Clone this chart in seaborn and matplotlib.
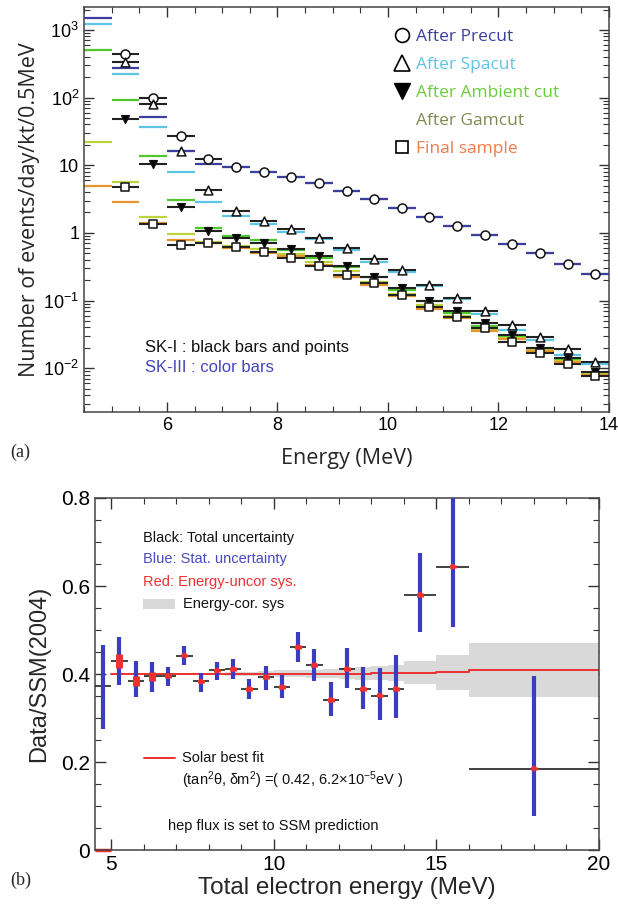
import numpy as np
import pandas as pd
import matplotlib
matplotlib.use("Agg")
import matplotlib.pyplot as plt
import seaborn as sns
from matplotlib.lines import Line2D
from matplotlib.patches import Rectangle
from matplotlib.ticker import (FixedLocator, FixedFormatter, MultipleLocator,
                               LogLocator, NullFormatter)

# ---------------- Panel (a) data ----------------
bin_lo_a = [4.5, 5.0, 5.5, 6.0, 6.5, 7.0, 7.5, 8.0, 8.5, 9.0, 9.5, 10.0, 10.5,
            11.0, 11.5, 12.0, 12.5, 13.0, 13.5]
bin_hi_a = [5.0, 5.5, 6.0, 6.5, 7.0, 7.5, 8.0, 8.5, 9.0, 9.5, 10.0, 10.5, 11.0,
            11.5, 12.0, 12.5, 13.0, 13.5, 14.0]
nan = np.nan
# SK-I (black bars + points)
sk1_precut = [nan, 445, 100, 27, 12.3, 9.3, 7.9, 6.6, 5.4, 4.1, 3.2, 2.33, 1.72,
              1.27, 0.93, 0.69, 0.51, 0.35, 0.25]
sk1_spacut = [nan, 338, 79, 16, 4.3, 2.08, 1.48, 1.15, 0.85, 0.60, 0.41, 0.28,
              0.17, 0.11, 0.069, 0.044, 0.029, 0.019, 0.0123]
sk1_ambient = [nan, 49, 10.3, 2.4, 1.05, 0.84, 0.72, 0.58, 0.45, 0.32, 0.225,
               0.155, 0.10, 0.071, 0.046, 0.031, 0.020, 0.014, 0.0087]
sk1_final = [nan, 4.7, 1.36, 0.67, 0.71, 0.61, 0.53, 0.43, 0.32, 0.24, 0.18,
             0.12, 0.079, 0.058, 0.039, 0.024, 0.0166, 0.0115, 0.0076]
# SK-III (color bars)
sk3_precut = [1500, 276, 52, 16, 10.3, 9.3, 7.9, 6.6, 5.4, 4.1, 3.2, 2.33, 1.72,
              1.27, 0.93, 0.69, 0.51, 0.35, 0.25]
sk3_spacut = [1230, 225, 37, 7.9, 2.85, 1.76, 1.36, 1.04, 0.80, 0.55, 0.37, 0.26,
              0.165, 0.105, 0.063, 0.037, 0.026, 0.0155, 0.0115]
sk3_ambient = [510, 93, 13.5, 3.06, 1.17, 0.90, 0.78, 0.56, 0.42, 0.31, 0.22,
               0.145, 0.097, 0.066, 0.042, 0.030, 0.020, 0.0135, 0.0085]
sk3_gamcut = [22, 5.6, 1.72, 0.96, 0.73, 0.63, 0.58, 0.48, 0.37, 0.27, 0.19,
              0.125, 0.085, 0.060, 0.038, 0.028, 0.019, 0.0128, 0.0082]
sk3_final = [4.9, 2.9, 1.40, 0.79, 0.70, 0.59, 0.51, 0.46, 0.34, 0.225, 0.17,
             0.115, 0.076, 0.056, 0.035, 0.027, 0.018, 0.0122, 0.0078]

legend_labels = ["After Precut", "After Spacut", "After Ambient cut",
                 "After Gamcut", "Final sample"]
ytick_vals_a = [0.01, 0.1, 1, 10, 100, 1000]
ytick_labels_a = ["$10^{-2}$", "$10^{-1}$", "1", "10", "$10^{2}$", "$10^{3}$"]

# ---------------- Panel (b) data ----------------
bin_lo_b = [4.5, 5.0, 5.5, 6.0, 6.5, 7.0, 7.5, 8.0, 8.5, 9.0, 9.5, 10.0, 10.5,
            11.0, 11.5, 12.0, 12.5, 13.0, 13.5, 14.0, 15.0, 16.0]
bin_hi_b = [5.0, 5.5, 6.0, 6.5, 7.0, 7.5, 8.0, 8.5, 9.0, 9.5, 10.0, 10.5, 11.0,
            11.5, 12.0, 12.5, 13.0, 13.5, 14.0, 15.0, 16.0, 20.0]
ratio = [0.373, 0.430, 0.384, 0.395, 0.396, 0.442, 0.383, 0.408, 0.411, 0.366,
         0.393, 0.370, 0.461, 0.420, 0.341, 0.411, 0.366, 0.351, 0.366, 0.580,
         0.644, 0.185]
stat_lo = [0.097, 0.055, 0.036, 0.035, 0.023, 0.022, 0.023, 0.022, 0.022, 0.023,
           0.029, 0.025, 0.033, 0.037, 0.036, 0.043, 0.045, 0.056, 0.065, 0.084,
           0.137, 0.107]
stat_hi = [0.093, 0.055, 0.046, 0.033, 0.020, 0.022, 0.020, 0.020, 0.023, 0.023,
           0.025, 0.028, 0.035, 0.037, 0.041, 0.048, 0.051, 0.062, 0.077, 0.096,
           0.20, 0.21]
uncor_sys = [0.0, 0.016, 0.012, 0.010, 0.005, 0.004, 0.004, 0.004, 0.004, 0.004,
             0.004, 0.004, 0.004, 0.004, 0.004, 0.004, 0.004, 0.004, 0.004, 0.004,
             0.004, 0.004]
best_fit = [0.0, 0.400, 0.400, 0.400, 0.400, 0.400, 0.400, 0.400, 0.400, 0.400,
            0.400, 0.401, 0.401, 0.401, 0.401, 0.401, 0.401, 0.402, 0.402, 0.403,
            0.404, 0.409]
cor_sys = [0.0, 0.001, 0.001, 0.0015, 0.002, 0.002, 0.003, 0.003, 0.004, 0.005,
           0.006, 0.007, 0.008, 0.009, 0.011, 0.012, 0.014, 0.016, 0.018, 0.026,
           0.040, 0.061]

# ---------------- style ----------------
sns.set_theme(style="ticks")
plt.rcParams["font.family"] = ["Liberation Sans", "DejaVu Sans"]
plt.rcParams["mathtext.fontset"] = "custom"
plt.rcParams["mathtext.rm"] = "Liberation Sans"
plt.rcParams["mathtext.it"] = "Liberation Sans:italic"

C_BLUE = "#3b3f9e"
C_CYAN = "#5cc6e4"
C_GREEN = "#4fc72e"
C_YG = "#bcd43a"
C_ORANGE = "#e8962e"
C_GRAY_BAND = "#d9d9d9"
C_RED = "#ee3030"
C_STAT = "#3c3cc0"

fig = plt.figure(figsize=(6.18, 9.09), dpi=100)
axa = fig.add_axes([84 / 618, 1 - 412 / 909, 525 / 618, 405 / 909])
axb = fig.add_axes([95 / 618, 1 - 850 / 909, 504 / 618, 352 / 909])

# ======== Panel (a) ========
dfa = pd.DataFrame({"lo": bin_lo_a, "hi": bin_hi_a})
dfa["E"] = (dfa["lo"] + dfa["hi"]) / 2

def bars(ax, vals, color, lw, z):
    v = np.asarray(vals, dtype=float)
    m = ~np.isnan(v)
    ax.hlines(v[m], dfa["lo"][m], dfa["hi"][m], colors=color, lw=lw, zorder=z)

bars(axa, sk3_spacut, C_CYAN, 1.6, 2)
bars(axa, sk3_ambient, C_GREEN, 1.6, 2)
bars(axa, sk3_gamcut, C_YG, 1.6, 2)
bars(axa, sk3_final, C_ORANGE, 1.6, 2)
bars(axa, sk1_spacut, "#222222", 1.5, 3)
bars(axa, sk1_ambient, "#222222", 1.5, 3)
bars(axa, sk1_final, "#222222", 1.5, 3)
bars(axa, sk1_precut, "#222222", 1.5, 3)
bars(axa, sk3_precut, C_BLUE, 1.6, 4)

mk = pd.DataFrame({
    "E": list(dfa["E"]) * 4,
    "val": sk1_precut + sk1_spacut + sk1_ambient + sk1_final,
    "cut": (["pre"] * 19 + ["spa"] * 19 + ["amb"] * 19 + ["fin"] * 19),
}).dropna()
for cut, marker, fc, size in [("pre", "o", "white", 42), ("spa", "^", "white", 40),
                              ("amb", "v", "black", 30), ("fin", "s", "white", 36)]:
    sub = mk[mk["cut"] == cut]
    sns.scatterplot(data=sub, x="E", y="val", marker=marker, s=size,
                    facecolor=fc, edgecolor="#111111", linewidth=1.1,
                    ax=axa, zorder=6, legend=False)

axa.set_yscale("log")
axa.set_xlim(4.5, 14)
axa.set_ylim(0.00225, 2180)
axa.xaxis.set_major_locator(FixedLocator([6, 8, 10, 12, 14]))
axa.xaxis.set_minor_locator(MultipleLocator(0.5))
axa.yaxis.set_major_locator(FixedLocator(ytick_vals_a))
axa.yaxis.set_major_formatter(FixedFormatter(ytick_labels_a))
axa.yaxis.set_minor_locator(LogLocator(base=10, subs=np.arange(2, 10)))
axa.yaxis.set_minor_formatter(NullFormatter())
axa.tick_params(which="both", direction="in", top=True, right=True,
                labelsize=13, colors="#333333", labelcolor="black")
axa.tick_params(which="major", length=7, width=1.0)
axa.tick_params(which="minor", length=4, width=0.8)
for s in axa.spines.values():
    s.set_linewidth(1.1)
    s.set_color("#444444")
axa.set_xlabel("Energy (MeV)", fontsize=15.5, family=["Open Sans", "DejaVu Sans"],
               labelpad=10)
axa.set_ylabel("Number of events/day/kt/0.5MeV", fontsize=15.5,
               family=["Open Sans", "DejaVu Sans"], labelpad=2)

handles = [
    Line2D([], [], ls="none", marker="o", ms=10, mfc="white", mec="black", mew=1.2),
    Line2D([], [], ls="none", marker="^", ms=11, mfc="white", mec="black", mew=1.2),
    Line2D([], [], ls="none", marker="v", ms=11, mfc="black", mec="black"),
    Line2D([], [], ls="none", marker="", ms=10),
    Line2D([], [], ls="none", marker="s", ms=9, mfc="white", mec="black", mew=1.2),
]
leg = axa.legend(handles, legend_labels, loc="upper left",
                 bbox_to_anchor=(0.575, 0.962), frameon=False,
                 prop={"family": ["Open Sans", "DejaVu Sans"], "size": 12.5},
                 handlelength=1.0, handletextpad=0.35, labelspacing=0.68,
                 borderaxespad=0,
                 labelcolor=[C_BLUE, C_CYAN, "#6ccd3c", "#7d8c52", "#ee7a4a"])

axa.text(0.116, 0.160, "SK-I : black bars and points", transform=axa.transAxes,
         fontsize=12, va="center", color="#111111")
axa.text(0.116, 0.109, "SK-III : color bars", transform=axa.transAxes,
         fontsize=12, va="center", color="#4444bb")

# ======== Panel (b) ========
dfb = pd.DataFrame({"lo": bin_lo_b, "hi": bin_hi_b, "ratio": ratio,
                    "slo": stat_lo, "shi": stat_hi, "usys": uncor_sys,
                    "fit": best_fit, "csys": cor_sys})
dfb["E"] = (dfb["lo"] + dfb["hi"]) / 2

# correlated-systematic band and best-fit line as steps
band = dfb[dfb["csys"] > 0]
xs_b = np.ravel(np.column_stack([band["lo"], band["hi"]]))
fit_b = np.repeat(band["fit"].values, 2)
cs_b = np.repeat(band["csys"].values, 2)
axb.fill_between(xs_b, fit_b - cs_b, fit_b + cs_b, color=C_GRAY_BAND, lw=0, zorder=1)
axb.plot(xs_b, fit_b, color=C_RED, lw=1.4, zorder=2)
nofit = dfb[dfb["csys"] == 0]
axb.hlines(nofit["fit"], nofit["lo"], nofit["hi"], colors=C_RED, lw=2.5, zorder=2,
           clip_on=False)

axb.hlines(dfb["ratio"], dfb["lo"], dfb["hi"], colors="#222222", lw=1.2, zorder=3)
axb.vlines(dfb["E"], dfb["ratio"] - dfb["slo"], dfb["ratio"] + dfb["shi"],
           colors=C_STAT, lw=3.0, zorder=4)
us = dfb["usys"] > 0
axb.vlines(dfb["E"][us], (dfb["ratio"] - dfb["usys"])[us],
           (dfb["ratio"] + dfb["usys"])[us], colors=C_RED, lw=5, zorder=5)
sns.scatterplot(data=dfb[us], x="E", y="ratio", s=16, color=C_RED,
                edgecolor="none", ax=axb, zorder=6, legend=False)

axb.set_xlim(4.5, 20)
axb.set_ylim(0, 0.8)
axb.xaxis.set_major_locator(FixedLocator([5, 10, 15, 20]))
axb.xaxis.set_minor_locator(MultipleLocator(1))
axb.yaxis.set_major_locator(FixedLocator([0, 0.2, 0.4, 0.6, 0.8]))
axb.yaxis.set_major_formatter(FixedFormatter(["0", "0.2", "0.4", "0.6", "0.8"]))
axb.yaxis.set_minor_locator(MultipleLocator(0.05))
axb.tick_params(which="both", direction="in", top=True, right=True,
                labelsize=15, colors="#333333", labelcolor="black")
axb.tick_params(which="major", length=8, width=1.0)
axb.tick_params(which="minor", length=4, width=0.8)
for s in axb.spines.values():
    s.set_linewidth(1.1)
    s.set_color("#444444")
axb.set_xlabel("Total electron energy (MeV)", fontsize=17.5, labelpad=2)
axb.set_ylabel("Data/SSM(2004)", fontsize=17, labelpad=8)

fs = 10.5
axb.text(0.095, 0.886, "Black: Total uncertainty", transform=axb.transAxes,
         fontsize=fs, va="center", color="#111111")
axb.text(0.095, 0.827, "Blue: Stat. uncertainty", transform=axb.transAxes,
         fontsize=fs, va="center", color="#4a4ac0")
axb.text(0.095, 0.761, "Red: Energy-uncor sys.", transform=axb.transAxes,
         fontsize=fs, va="center", color=C_RED)
axb.add_patch(Rectangle((0.095, 0.686), 0.064, 0.026, transform=axb.transAxes,
                        color=C_GRAY_BAND, lw=0))
axb.text(0.175, 0.699, "Energy-cor. sys", transform=axb.transAxes,
         fontsize=fs, va="center", color="#111111")
axb.add_line(Line2D([0.097, 0.159], [0.26, 0.26], transform=axb.transAxes,
                    color=C_RED, lw=1.4))
axb.text(0.173, 0.26, "Solar best fit", transform=axb.transAxes,
         fontsize=fs, va="center", color="#111111")
axb.text(0.173, 0.197, r"(tan$^{2}$θ, δm$^{2}$) =( 0.42, 6.2×10$^{-5}$eV )",
         transform=axb.transAxes, fontsize=fs, va="center", color="#111111")
axb.text(0.144, 0.069, "hep flux is set to SSM prediction", transform=axb.transAxes,
         fontsize=fs, va="center", color="#111111")

fig.text(0.016, 1 - 452 / 909, "(a)", fontsize=13, family=["Liberation Serif"],
         va="center")
fig.text(0.016, 1 - 880 / 909, "(b)", fontsize=13, family=["Liberation Serif"],
         va="center")

fig.savefig("out.png", dpi=100, facecolor="white")
